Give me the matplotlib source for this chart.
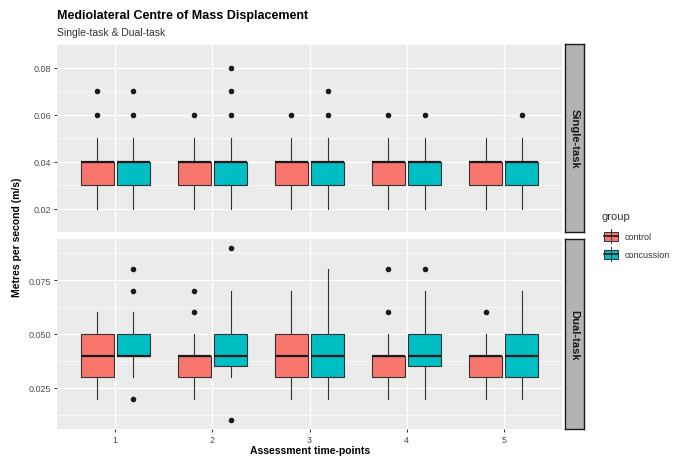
import matplotlib
matplotlib.use("Agg")
import matplotlib.pyplot as plt
import numpy as np

plt.rcParams["font.family"] = ["Liberation Sans", "DejaVu Sans"]

timepoints = [1, 2, 3, 4, 5]
groups = ["control", "concussion"]
colors = {"control": "#F8766D", "concussion": "#00BFC4"}

# Single-task: (whislo, q1, med, q3, whishi) per time-point
single_control = [(0.02, 0.03, 0.04, 0.04, 0.05)] * 5
single_concussion = [(0.02, 0.03, 0.04, 0.04, 0.05)] * 5
single_control_out = [[0.06, 0.07], [0.06], [0.06], [0.06], []]
single_concussion_out = [[0.06, 0.07], [0.06, 0.07, 0.08], [0.06, 0.07], [0.06], [0.06]]

# Dual-task
dual_control = [
    (0.02, 0.03, 0.04, 0.05, 0.06),
    (0.02, 0.03, 0.04, 0.04, 0.05),
    (0.02, 0.03, 0.04, 0.05, 0.07),
    (0.02, 0.03, 0.04, 0.04, 0.05),
    (0.02, 0.03, 0.04, 0.04, 0.05),
]
dual_concussion = [
    (0.03, 0.04, 0.04, 0.05, 0.06),
    (0.03, 0.035, 0.04, 0.05, 0.07),
    (0.02, 0.03, 0.04, 0.05, 0.08),
    (0.02, 0.035, 0.04, 0.05, 0.07),
    (0.02, 0.03, 0.04, 0.05, 0.07),
]
dual_control_out = [[], [0.06, 0.07], [], [0.06, 0.08], [0.06]]
dual_concussion_out = [[0.02, 0.07, 0.08], [0.01, 0.09], [], [0.08], []]

panels = [
    ("Single-task", {"control": (single_control, single_control_out),
                     "concussion": (single_concussion, single_concussion_out)},
     [0.02, 0.04, 0.06, 0.08], ["0.02", "0.04", "0.06", "0.08"], (0.017, 0.083)),
    ("Dual-task", {"control": (dual_control, dual_control_out),
                   "concussion": (dual_concussion, dual_concussion_out)},
     [0.025, 0.05, 0.075], ["0.025", "0.050", "0.075"], (0.006, 0.094)),
]

W, H = 682, 460
fig = plt.figure(figsize=(W / 100, H / 100), dpi=100)


def frac(x0, y0, x1, y1):
    return [x0 / W, 1 - y1 / H, (x1 - x0) / W, (y1 - y0) / H]


panel_boxes = [(57, 45, 562, 233), (57, 240, 562, 430)]
offsets = {"control": -0.1875, "concussion": 0.1875}

for (label, data, ticks, ticklabels, ylim), (x0, y0, x1, y1) in zip(panels, panel_boxes):
    ax = fig.add_axes(frac(x0, y0, x1, y1))
    ax.set_facecolor("#EBEBEB")
    for s in ax.spines.values():
        s.set_visible(False)
    ax.set_xlim(0.4, 5.6)
    ax.set_ylim(*ylim)
    ax.set_yticks(ticks)
    ax.set_yticklabels(ticklabels)
    minor = [(a + b) / 2 for a, b in zip(ticks[:-1], ticks[1:])]
    step = ticks[1] - ticks[0]
    minor = [ticks[0] - step / 2] + minor + [ticks[-1] + step / 2]
    ax.set_yticks(minor, minor=True)
    ax.grid(True, which="major", color="white", linewidth=1.0)
    ax.grid(True, which="minor", axis="y", color="white", linewidth=0.5)
    ax.tick_params(which="minor", length=0)
    ax.tick_params(which="major", length=2.5, width=0.7, color="#333333",
                   labelcolor="#4D4D4D", labelsize=6.5, pad=2)
    ax.set_xticks(timepoints)
    ax.set_axisbelow(True)
    if label == "Single-task":
        ax.tick_params(axis="x", length=0, labelbottom=False)
    else:
        ax.set_xticklabels([str(t) for t in timepoints])

    for g in groups:
        summ, outs = data[g]
        stats = []
        for (wlo, q1, med, q3, whi), fl in zip(summ, outs):
            stats.append({"whislo": wlo, "q1": q1, "med": med, "q3": q3,
                          "whishi": whi, "fliers": fl})
        pos = [t + offsets[g] for t in timepoints]
        ax.bxp(stats, positions=pos, widths=0.34, patch_artist=True,
               showcaps=False, manage_ticks=False,
               boxprops=dict(facecolor=colors[g], edgecolor="#333333", linewidth=0.8),
               medianprops=dict(color="#1a1a1a", linewidth=1.6),
               whiskerprops=dict(color="#333333", linewidth=0.8),
               flierprops=dict(marker="o", markerfacecolor="#1a1a1a",
                               markeredgecolor="#1a1a1a", markersize=3))

    sax = fig.add_axes(frac(565, y0, 584, y1))
    sax.set_facecolor("#B3B3B3")
    sax.set_xticks([])
    sax.set_yticks([])
    for s in sax.spines.values():
        s.set_color("#1a1a1a")
        s.set_linewidth(1.0)
    sax.text(0.5, 0.5, label, rotation=-90, ha="center", va="center",
             fontsize=8, fontweight="bold", color="#1a1a1a", transform=sax.transAxes)

fig.text(57 / W, 1 - 16 / H, "Mediolateral Centre of Mass Displacement",
         fontsize=9, fontweight="bold", ha="left", va="center")
fig.text(57 / W, 1 - 33 / H, "Single-task & Dual-task",
         fontsize=7.5, color="#333333", ha="left", va="center")
fig.text(17 / W, 1 - 237 / H, "Metres per second (m/s)", rotation=90,
         fontsize=7.5, fontweight="bold", ha="center", va="center")
fig.text(310 / W, 1 - 451 / H, "Assessment time-points",
         fontsize=7.5, fontweight="bold", ha="center", va="center")

# legend
fig.text(602 / W, 1 - 217 / H, "group", fontsize=8, color="#333333",
         ha="left", va="center")
lax = fig.add_axes(frac(600, 226, 682, 266))
lax.set_xlim(0, 82)
lax.set_ylim(40, 0)
lax.axis("off")
for i, g in enumerate(groups):
    yc = 11 + i * 18
    lax.plot([11, 11], [yc - 7, yc + 7], color="#333333", linewidth=0.7)
    lax.add_patch(plt.Rectangle((4, yc - 4.5), 14, 9, facecolor=colors[g],
                                edgecolor="#333333", linewidth=0.7))
    lax.plot([4, 18], [yc, yc], color="#1a1a1a", linewidth=1.2)
    lax.text(25, yc, g, fontsize=6.5, color="#333333", va="center", ha="left")

fig.savefig("out.png", dpi=100)
